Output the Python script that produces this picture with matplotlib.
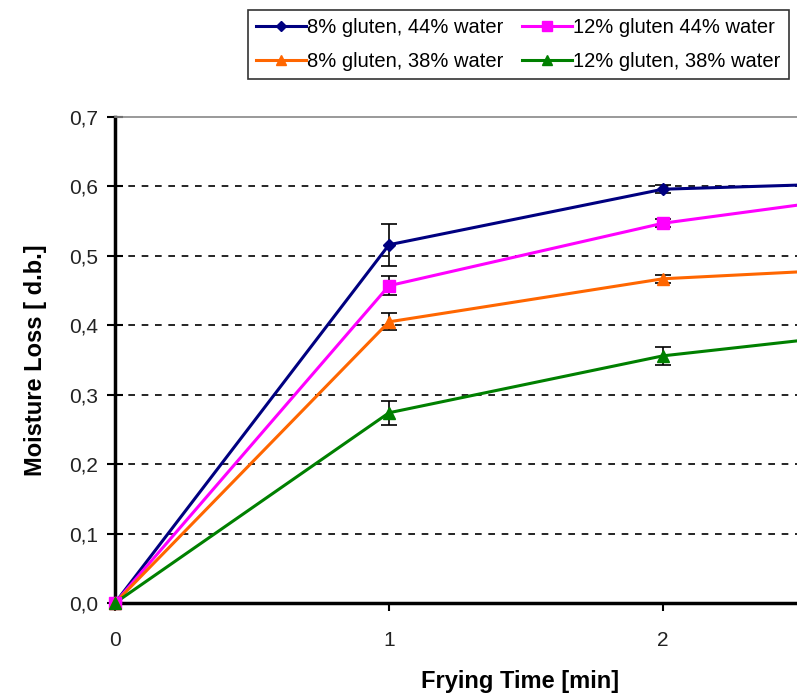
import matplotlib
matplotlib.use("Agg")
import matplotlib.pyplot as plt

time = [0, 1, 2, 3]
s1 = [0.0, 0.516, 0.596, 0.608]   # 8% gluten, 44% water
s2 = [0.0, 0.457, 0.547, 0.600]   # 12% gluten 44% water
s3 = [0.0, 0.405, 0.467, 0.487]   # 8% gluten, 38% water
s4 = [0.0, 0.274, 0.356, 0.400]   # 12% gluten, 38% water
e1 = [0.0, 0.030, 0.006, 0.0]
e2 = [0.0, 0.014, 0.006, 0.0]
e3 = [0.0, 0.012, 0.006, 0.0]
e4 = [0.0, 0.017, 0.013, 0.0]
labels = ["8% gluten, 44% water", "12% gluten 44% water",
          "8% gluten, 38% water", "12% gluten, 38% water"]
yticks = [0.0, 0.1, 0.2, 0.3, 0.4, 0.5, 0.6, 0.7]
xticks = [0, 1, 2]

plt.rcParams['font.family'] = ['Liberation Sans', 'DejaVu Sans']

fig = plt.figure(figsize=(7.97, 6.94), dpi=100)
W, H = 797, 694
ax = fig.add_axes([115 / W, (H - 603) / H, (W - 115) / W, (603 - 117) / H])

colors = ['#000080', '#FF00FF', '#FF6600', '#008000']
markers = ['D', 's', '^', '^']
msizes = [6, 9, 9, 9]
series = [s1, s2, s3, s4]
errs = [e1, e2, e3, e4]
handles = []
for s, e, c, m, ms, lab in zip(series, errs, colors, markers, msizes, labels):
    ax.errorbar(time, s, yerr=e, fmt='none', ecolor='black', elinewidth=1.2,
                capsize=6, capthick=1.2, zorder=2, clip_on=False)
    h, = ax.plot(time, s, color=c, marker=m, markersize=ms, linewidth=2.2,
                 label=lab, zorder=3, clip_on=True)
    handles.append(h)

# markers at origin not clipped
for s, c, m, ms in zip(series, colors, markers, msizes):
    ax.plot([time[0]], [s[0]], color=c, marker=m, markersize=ms, linestyle='none',
            clip_on=False, zorder=4)

ax.set_xlim(0, (W - 115) / 274)
ax.set_ylim(0, 0.7)
ax.set_yticks(yticks)
ax.set_yticklabels([f"{v:.1f}".replace('.', ',') for v in yticks])
ax.set_xticks(xticks)
ax.set_xticklabels([str(v) for v in xticks])

for v in yticks[1:-1]:
    ax.axhline(v, color='black', linestyle=(0, (4, 4)), linewidth=1.2, zorder=1)

ax.spines['left'].set_linewidth(2.5)
ax.spines['bottom'].set_linewidth(2.5)
ax.spines['top'].set_color('#888888')
ax.spines['top'].set_linewidth(1.2)
ax.spines['right'].set_visible(False)

ax.tick_params(axis='y', direction='inout', length=12, width=1.5, labelsize=15, pad=6,
               colors='black', labelcolor='#222222')
ax.tick_params(axis='x', direction='out', length=6, width=1.5, labelsize=15, pad=14,
               labelcolor='#222222')

ax.set_ylabel("Moisture Loss [ d.b.]", fontsize=17, fontweight='bold', labelpad=16)
ax.set_xlabel("Frying Time [min]", fontsize=17, fontweight='bold')
ax.xaxis.set_label_coords((520 - 115) / (W - 115), -0.137)

order = [0, 2, 1, 3]
leg = fig.legend([handles[i] for i in order], [labels[i] for i in order],
                 ncol=2, loc='upper left', bbox_to_anchor=(248 / W, 1 - 10 / H),
                 fontsize=14.5, frameon=True, fancybox=False, edgecolor='black',
                 handlelength=2.5, handletextpad=0.05, columnspacing=0.9,
                 borderpad=0.4, labelspacing=0.75, borderaxespad=0,
                 markerscale=0.8)
leg.get_frame().set_linewidth(1.2)

fig.savefig("out.png", dpi=100)
